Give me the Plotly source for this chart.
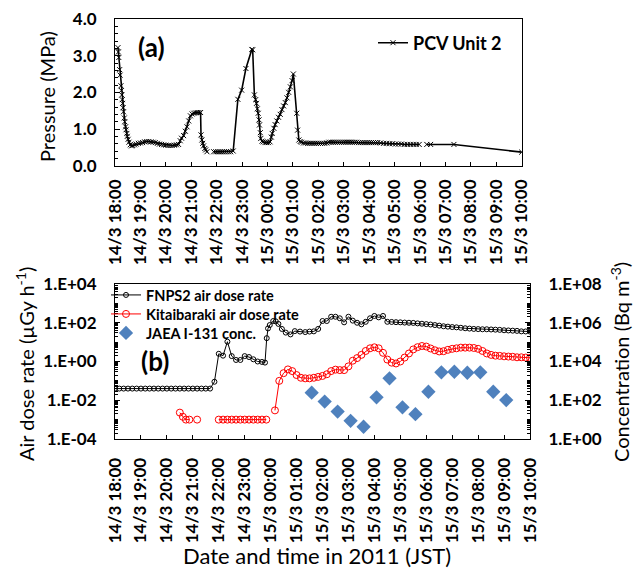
import pandas as pd
import plotly.graph_objects as go

W, H = 633, 570
BASE = pd.Timestamp("2011-03-14 18:00")

# ---------------- data (minutes after 14/3 18:00) ----------------
pcv_min = [7, 8, 9, 11, 12, 14, 15, 16, 17, 18, 19, 20, 22, 23, 25, 26, 28, 29, 31, 33,
           36, 39, 42, 46, 50, 55, 60, 65, 70, 75, 80, 85, 90, 95, 100, 105, 110, 115, 120, 125,
           130, 135, 140, 145, 150, 154, 157, 162, 166, 170, 174, 178, 182, 186, 190, 194, 198, 202,
           203, 205, 207, 209, 212, 214, 217, 225,
           233, 238, 243, 248, 253, 258, 263, 268, 273, 279, 290, 299, 309, 323, 325,
           329, 332, 334, 336, 338, 340, 341, 343, 344, 347, 350, 354, 358, 362, 366, 369, 371,
           375, 378, 382, 386, 390, 394, 398, 402, 406, 410, 414, 418, 421, 429, 431, 434, 437, 440,
           445, 450, 455, 460, 465, 470, 475, 480, 485, 490, 495, 500, 505, 510, 515, 520, 525, 530,
           535, 540, 545, 550, 555, 560, 565, 570, 575, 580, 585, 590, 595, 600, 605, 610, 615, 620,
           627, 634, 641, 648, 655, 662, 669, 676, 683, 690, 697, 704, 711, 718, 727,
           736, 745, 800, 960]
pcv_mpa = [3.22, 3.10, 2.95, 2.62, 2.47, 2.18, 2.05, 1.93, 1.80, 1.70, 1.58, 1.47, 1.30, 1.20, 1.06, 0.98, 0.88, 0.80, 0.72, 0.64,
           0.57, 0.54, 0.55, 0.57, 0.59, 0.61, 0.62, 0.63, 0.65, 0.66, 0.66, 0.65, 0.64, 0.63, 0.61, 0.59, 0.58, 0.57, 0.56, 0.55,
           0.55, 0.55, 0.56, 0.57, 0.58, 0.68, 0.75, 0.82, 0.94, 1.06, 1.22, 1.36, 1.41, 1.43, 1.44, 1.45, 1.45, 1.45,
           0.84, 0.70, 0.61, 0.54, 0.47, 0.43, 0.38, None,
           0.38, 0.38, 0.38, 0.38, 0.38, 0.38, 0.38, 0.38, 0.38, 0.40, 1.81, 2.06, 2.65, 3.17, 3.16,
           1.93, 1.80, 1.70, 1.55, 1.43, 1.25, 1.11, 0.90, 0.74, 0.67, 0.65, 0.63, 0.63, 0.63, 0.65, 0.78, 0.88,
           1.02, 1.12, 1.22, 1.32, 1.40, 1.53, 1.63, 1.72, 1.85, 2.00, 2.15, 2.32, 2.50, 1.43, 0.97, 0.70, 0.66, 0.64,
           0.62, 0.62, 0.61, 0.61, 0.61, 0.61, 0.61, 0.61, 0.61, 0.61, 0.61, 0.62, 0.64, 0.64, 0.64, 0.64, 0.64, 0.64,
           0.64, 0.64, 0.64, 0.64, 0.64, 0.64, 0.64, 0.64, 0.63, 0.63, 0.63, 0.63, 0.63, 0.63, 0.63, 0.63, 0.63, 0.63,
           0.62, 0.61, 0.61, 0.60, 0.60, 0.59, 0.59, 0.59, 0.58, 0.58, 0.58, 0.58, 0.58, 0.58, None,
           0.58, 0.58, 0.58, 0.37]

fnps2_min = [0, 10, 20, 30, 40, 50, 60, 70, 80, 90, 100, 110, 120, 130, 140, 150, 160, 170, 180, 190,
             200, 210, 220, 230, 240, 250, 260, 270, 280, 290, 300, 310, 320, 330, 340, 347, 351, 354, 358,
             366, 372, 378, 386, 395, 406, 416, 428, 440, 450, 460, 470, 480, 490, 500, 510, 520, 530,
             540, 550, 560, 570, 580, 590, 600, 610, 620, 630, 640, 650, 660, 670, 680, 690, 700, 710,
             720, 730, 740, 750, 760, 770, 780, 790, 800, 810, 820, 830, 840, 850, 860, 870, 880, 890,
             900, 910, 920, 930, 940, 950, 960]
fnps2_dose = [0.04, 0.04, 0.04, 0.04, 0.04, 0.04, 0.04, 0.04, 0.04, 0.04, 0.04, 0.04, 0.04, 0.04, 0.04, 0.04, 0.04, 0.04, 0.04, 0.04,
              0.04, 0.04, 0.04, 0.09, 2.5, 2.0, 10.5, 1.9, 1.2, 1.2, 1.9, 1.7, 1.3, 1.0, 0.95, 0.88, 16, 51, 76,
              123, 118, 87, 48, 31, 25, 37, 35, 33, 35, 36, 48, 123, 123, 204, 204, 170, 105,
              204, 129, 100, 83, 112, 170, 224, 190, 224, 112, 110, 107, 105, 102, 100, 98, 93, 89,
              85, 81, 76, 71, 66, 63, 60, 58, 55, 52, 50, 48, 47, 46, 46, 45, 44, 43,
              41, 40, 39, 38, 36, 35.5, 35]

kita_min = [150, 157, 164, 172, 180, 190, 200,
            240, 250, 260, 270, 280, 290, 300, 310, 320, 330, 340, 350, 360,
            370, 380, 390, 400, 410, 420, 430, 440, 450, 460, 470, 480, 490, 500, 510, 520, 530,
            540, 550, 560, 570, 580, 590, 600, 610, 620, 630, 640, 650, 660, 670, 680, 690, 700,
            710, 720, 730, 740, 750, 760, 770, 780, 790, 800, 810, 820, 830, 840, 850, 860, 870,
            880, 890, 900, 910, 920, 930, 940, 950, 960]
kita_dose = [0.0023, 0.0014, 0.001, 0.001, None, 0.001, None,
             0.001, 0.001, 0.001, 0.001, 0.001, 0.001, 0.001, 0.001, 0.001, 0.001, 0.001, 0.001, None,
             0.003, 0.10, 0.25, 0.39, 0.32, 0.20, 0.145, 0.135, 0.135, 0.145, 0.16, 0.18, 0.22, 0.32, 0.38, 0.36, 0.36,
             0.56, 1.1, 1.5, 2.2, 3.5, 4.8, 5.4, 4.8, 2.8, 1.26, 0.87, 0.79, 1.0, 1.6, 2.6, 4.2, 5.5,
             6.3, 5.9, 4.7, 3.8, 3.3, 3.4, 4.0, 4.5, 4.8, 5.2, 5.2, 5.2, 5.0, 4.5, 3.5, 2.6, 2.2,
             2.0, 1.95, 1.85, 1.8, 1.75, 1.65, 1.65, 1.6, 1.55]

jaea_min = [455, 485, 515, 545, 575, 605, 635, 665, 695, 725, 755, 785, 815, 845, 875, 905]
jaea_conc = [245, 85, 26, 8.7, 4.3, 141, 1350, 43, 19, 275, 2750, 2950, 2630, 2750, 275, 102]

tick_labels = ["14/3 18:00", "14/3 19:00", "14/3 20:00", "14/3 21:00", "14/3 22:00", "14/3 23:00",
               "15/3 00:00", "15/3 01:00", "15/3 02:00", "15/3 03:00", "15/3 04:00", "15/3 05:00",
               "15/3 06:00", "15/3 07:00", "15/3 08:00", "15/3 09:00", "15/3 10:00"]
pres_ticks = [0, 1, 2, 3, 4]
pres_labels = ["0.0", "1.0", "2.0", "3.0", "4.0"]
dose_ticks = [1e-4, 1e-2, 1, 1e2, 1e4]
dose_labels = ["1.E-04", "1.E-02", "1.E+00", "1.E+02", "1.E+04"]
conc_ticks = [1, 1e2, 1e4, 1e6, 1e8]
conc_labels = ["1.E+00", "1.E+02", "1.E+04", "1.E+06", "1.E+08"]


def t(mins):
    return [BASE + pd.Timedelta(minutes=m) for m in mins]


tick_times = t([60 * i for i in range(len(tick_labels))])
x_range = [tick_times[0], tick_times[-1]]

FONT = "Lato"
BOLD_TICK = dict(family=FONT, size=17, color="black", weight="bold")


def minor_log(lo, hi, skip):
    vals = []
    for e in range(lo, hi):
        for k in range(1, 10):
            v = k * 10.0 ** e
            if v not in skip:
                vals.append(v)
    return vals


fig = go.Figure()

fig.add_trace(go.Scatter(
    x=t(pcv_min), y=pcv_mpa, name="PCV Unit 2", mode="lines+markers",
    line=dict(color="black", width=1.6),
    marker=dict(symbol="x-thin-open", size=5, line=dict(color="black", width=1)),
    xaxis="x", yaxis="y", legend="legend", connectgaps=False, showlegend=True))

fig.add_trace(go.Scatter(
    x=t(fnps2_min), y=fnps2_dose, name="FNPS2 air dose rate", mode="lines+markers",
    line=dict(color="black", width=1),
    marker=dict(symbol="circle-open", size=5, color="black", line=dict(width=1)),
    xaxis="x2", yaxis="y2", legend="legend2", showlegend=True))

fig.add_trace(go.Scatter(
    x=t(kita_min), y=kita_dose, name="Kitaibaraki air dose rate", mode="lines+markers",
    line=dict(color="red", width=1),
    marker=dict(symbol="circle-open", size=7, color="red", line=dict(width=1)),
    xaxis="x2", yaxis="y2", legend="legend3", connectgaps=False, showlegend=True))

fig.add_trace(go.Scatter(
    x=t(jaea_min), y=jaea_conc, name="JAEA I-131 conc.", mode="markers",
    marker=dict(symbol="diamond", size=11, color="#4F81BD"),
    xaxis="x2", yaxis="y3", legend="legend4", showlegend=True))

xcommon = dict(type="date", range=x_range, tickmode="array", tickvals=tick_times, ticktext=tick_labels,
               tickangle=-90, ticks="inside", ticklen=4, tickcolor="black", showline=True,
               linecolor="black", linewidth=1, mirror=True, showgrid=False, zeroline=False,
               tickfont=BOLD_TICK, automargin=False)


def leg(x_px, y_px, size):
    return dict(x=x_px / W, y=1 - y_px / H, xanchor="left", yanchor="middle", visible=True,
                bgcolor="rgba(0,0,0,0)", borderwidth=0,
                font=dict(family=FONT, size=size, color="black", weight="bold"))


def title_ann(text, x_px, y_px, size, angle=0, bold=False):
    f = dict(family=FONT, size=size, color="black")
    if bold:
        f["weight"] = "bold"
    return dict(text=text, x=x_px / W, y=1 - y_px / H, xref="paper", yref="paper",
                xanchor="center", yanchor="middle", textangle=angle, showarrow=False, font=f)


fig.update_layout(
    width=W, height=H, autosize=False, showlegend=True,
    margin=dict(l=0, r=0, t=0, b=0),
    paper_bgcolor="white", plot_bgcolor="white",
    font=dict(family=FONT, color="black"),
    xaxis=dict(domain=[115 / W, 521.7 / W], anchor="y", ticklabelstandoff=6, **xcommon),
    xaxis2=dict(domain=[115 / W, 530 / W], anchor="y2", ticklabelstandoff=11, **xcommon),
    yaxis=dict(domain=[1 - 165.7 / H, 1 - 19 / H], anchor="x", range=[0, 4],
               tickmode="array", tickvals=pres_ticks, ticktext=pres_labels,
               ticks="inside", ticklen=5, tickcolor="black", showline=True, linecolor="black",
               linewidth=1, mirror=True, showgrid=False, zeroline=False, tickfont=BOLD_TICK,
               ticklabelstandoff=14, automargin=False,
               minor=dict(dtick=0.2, ticks="inside", ticklen=3, tickcolor="black", showgrid=False)),
    yaxis2=dict(domain=[1 - 439 / H, 1 - 284 / H], anchor="x2", type="log", range=[-4, 4],
                tickmode="array", tickvals=dose_ticks, ticktext=dose_labels,
                ticks="inside", ticklen=5, tickcolor="black", showline=True, linecolor="black",
                linewidth=1, mirror=True, showgrid=False, zeroline=False, tickfont=BOLD_TICK,
                ticklabelstandoff=14, automargin=False,
                minor=dict(tickmode="array", tickvals=minor_log(-4, 4, dose_ticks), ticks="inside",
                           ticklen=3, tickcolor="black", showgrid=False)),
    yaxis3=dict(overlaying="y2", anchor="x2", side="right", type="log", range=[0, 8],
                tickmode="array", tickvals=conc_ticks, ticktext=conc_labels,
                ticks="inside", ticklen=5, tickcolor="black", showline=True, linecolor="black",
                linewidth=1, showgrid=False, zeroline=False, tickfont=BOLD_TICK,
                ticklabelstandoff=14, automargin=False,
                minor=dict(tickmode="array", tickvals=minor_log(0, 8, conc_ticks), ticks="inside",
                           ticklen=3, tickcolor="black", showgrid=False)),
    legend=leg(373, 43, 18),
    legend2=leg(106, 295, 14.5),
    legend3=leg(106, 314, 14.5),
    legend4=leg(106, 333, 14.5),
    annotations=[
        title_ann("Pressure (MPa)", 47, 96, 20, -90),
        title_ann("Air dose rate (µGy h<sup>-1</sup>)", 25, 364, 20, -90),
        title_ann("Concentration (Bq m<sup>-3</sup>)", 620, 362, 20, -90),
        title_ann("Date and time in 2011 (JST)", 317, 555, 22),
        title_ann("(a)", 151, 47, 26, bold=True),
        title_ann("(b)", 155, 361, 26, bold=True),
    ],
)

fig.write_html("out.html")
